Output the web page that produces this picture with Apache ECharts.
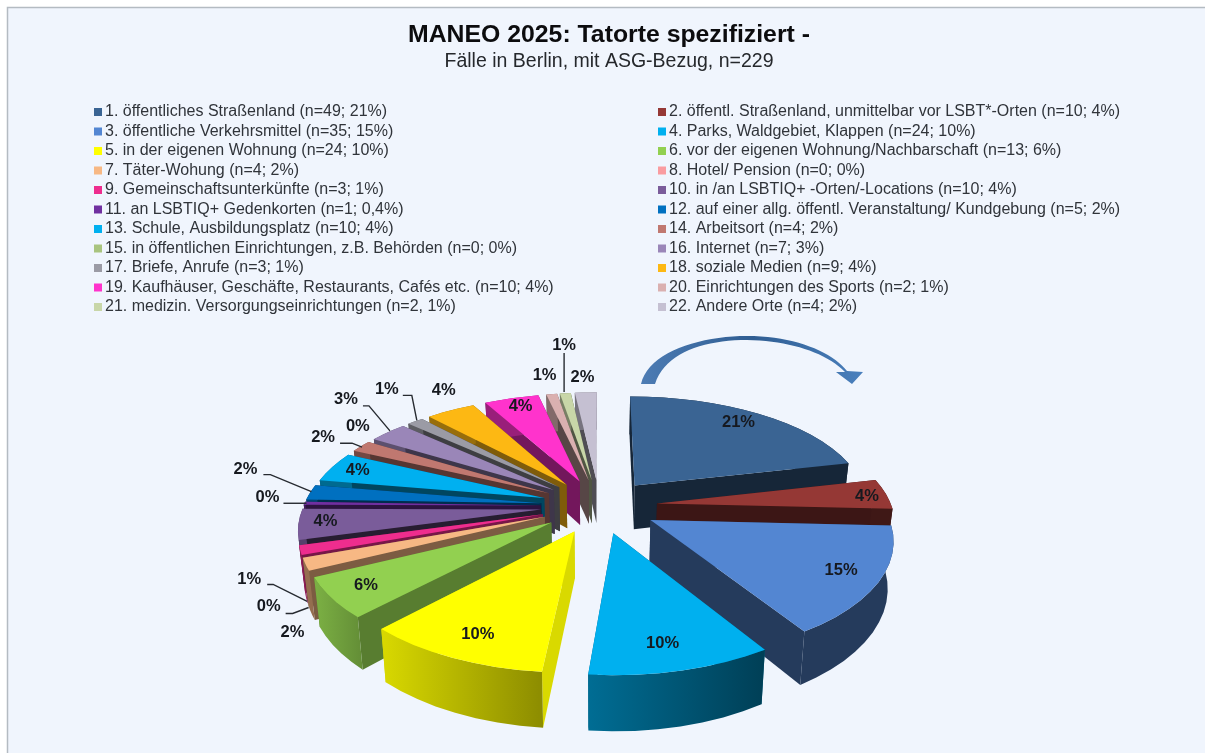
<!DOCTYPE html>
<html><head><meta charset="utf-8">
<style>html,body{margin:0;padding:0;background:#fff}#c{width:1205px;height:753px}</style>
<script src="https://cdn.jsdelivr.net/npm/echarts@6/dist/echarts.min.js"></script>
</head><body><div id="c"></div>
<script>
const titleText = 'MANEO 2025: Tatorte spezifiziert -';
const subtitleText = 'Fälle in Berlin, mit ASG-Bezug, n=229';
const categories = [
 '1. öffentliches Straßenland (n=49; 21%)',
 '2. öffentl. Straßenland, unmittelbar vor LSBT*-Orten (n=10; 4%)',
 '3. öffentliche Verkehrsmittel (n=35; 15%)',
 '4. Parks, Waldgebiet, Klappen (n=24; 10%)',
 '5. in der eigenen Wohnung (n=24; 10%)',
 '6. vor der eigenen Wohnung/Nachbarschaft (n=13; 6%)',
 '7. Täter-Wohung (n=4; 2%)',
 '8. Hotel/ Pension (n=0; 0%)',
 '9. Gemeinschaftsunterkünfte (n=3; 1%)',
 '10. in /an LSBTIQ+ -Orten/-Locations (n=10; 4%)',
 '11. an LSBTIQ+ Gedenkorten (n=1; 0,4%)',
 '12. auf einer allg. öffentl. Veranstaltung/ Kundgebung (n=5; 2%)',
 '13. Schule, Ausbildungsplatz (n=10; 4%)',
 '14. Arbeitsort (n=4; 2%)',
 '15. in öffentlichen Einrichtungen, z.B. Behörden (n=0; 0%)',
 '16. Internet (n=7; 3%)',
 '17. Briefe, Anrufe (n=3; 1%)',
 '18. soziale Medien (n=9; 4%)',
 '19. Kaufhäuser, Geschäfte, Restaurants, Cafés etc. (n=10; 4%)',
 '20. Einrichtungen des Sports (n=2; 1%)',
 '21. medizin. Versorgungseinrichtungen (n=2, 1%)',
 '22. Andere Orte (n=4; 2%)'
];
const counts = [49,10,35,24,24,13,4,0,3,10,1,5,10,4,0,7,3,9,10,2,2,4];
const percentLabels = ['21%','4%','15%','10%','10%','6%','2%','0%','1%','4%','0%','2%','4%','2%','0%','3%','1%','4%','4%','1%','1%','2%'];

// ---- styling, separate from the data ----
const colors = ['#3a6493','#953835','#5386d2','#00b0ef','#ffff00','#92d050','#f7b884','#fa9ca0','#ee2d8e','#7a5c9a','#7030a0','#0070c0','#00b0f0','#c07870','#a9c47f','#9a86b8','#9b9ba5','#fdb813','#ff33cc','#dab0b0','#c8d6a8','#c5c0d2'];
// radial wall shade, outer wall shade left, outer wall shade right
const shades = [[.38,.38,.38],[.4,.42,.42],[.44,.44,.44],[.55,.62,.36],[.85,.85,.55],[.6,.85,.68],[.5,.6,.6],[.5,.6,.6],[.5,.6,.6],[.32,.7,.7],[.4,.6,.6],[.4,.6,.6],[.4,.6,.6],[.45,.6,.6],[.5,.6,.6],[.4,.6,.6],[.4,.6,.6],[.5,.6,.6],[.45,.6,.6],[.4,.6,.6],[.4,.6,.6],[.4,.6,.6]];
// label offsets in px from each slice's label anchor
const labelOffsets = [[-22,6],[-29,3],[-54,-10],[-27,-27],[35,-23],[47,-11],[-2,70],[-23,52],[-41,31],[35,-1],[-31,-5],[-60,-22],[28,3],[-37,-10],[-12,-16],[-42,-34],[-29,-34],[-8,-23],[8,5],[-8,-22],[-2,-52],[-4,-19]];
const leaders = {7:[[-6,59],[1,59],[17,53]],8:[[-23,36],[-17,36],[17,53]],10:[[-15,1],[8,1]],11:[[-42,-17],[-35,-17],[6,0]],13:[[-20,-4],[-8,-4],[2,0]],15:[[-25,-28],[-19,-28],[2,-3]],16:[[-13,-28],[-4,-28],[1,-3]],20:[[-2,-44],[-2,-5]]};
const view = {cx:599.5, cy:506, R:243, explode:60, tilt:.45, persp:.16, perspX:.15, height:45, taper:.98, xScaleL:.978, xScaleR:.965};
const anchorView = {cx:600, cy:505, tilt:.44, persp:.18};

const total = counts.reduce((a,b)=>a+b,0);
const angles = [];
counts.reduce((acc,v)=>{angles.push([acc, acc+v/total*2*Math.PI]); return acc+v/total*2*Math.PI;},0);
const mid = i => (angles[i][0]+angles[i][1])/2;
function modelXY(i, th, r){
  const b = mid(i), e = view.explode;
  return [e*Math.sin(b)+r*Math.sin(th), e*Math.cos(b)+r*Math.cos(th)];
}
function project(i, th, r, bottom){
  const [x,y] = modelXY(i,th,r);
  const s = 1/(1+view.persp*y/view.R), sx = 1/(1+view.perspX*y/view.R);
  let X = view.cx+x*sx*(x<0?view.xScaleL:view.xScaleR), Y = view.cy-view.tilt*y*s;
  if(bottom){ X = view.cx+(X-view.cx)*view.taper; Y += view.height*s; }
  return [X,Y];
}
function labelAnchor(i){
  const [x,y] = modelXY(i,mid(i),view.R), v = anchorView;
  const s = 1/(1+v.persp*y/view.R);
  return [v.cx+x*s, v.cy-v.tilt*y*s];
}
function shade(hex,f){
  const n=parseInt(hex.slice(1),16);
  const c=[n>>16,(n>>8)&255,n&255].map(v=>Math.round(v*f));
  return 'rgb('+c.join(',')+')';
}
function sliceElements(i){
  if(!counts[i]) return [];
  const [a0,a1]=angles[i], R=view.R, col=colors[i], sh=shades[i];
  const steps=Math.max(3,Math.ceil((a1-a0)/(2*Math.PI)*72));
  const arcT=[],arcB=[];
  for(let k=0;k<=steps;k++){const t=a0+(a1-a0)*k/steps; arcT.push(project(i,t,R,false)); arcB.push(project(i,t,R,true));}
  const apT=project(i,0,0,false), apB=project(i,0,0,true);
  const walls=[
    {pts:[apT,arcT[0],arcB[0],apB],fill:shade(col,sh[0]),d:Math.cos(a0)},
    {pts:[apT,arcT[steps],arcB[steps],apB],fill:shade(col,sh[0]),d:Math.cos(a1)},
    {pts:arcT.concat(arcB.slice().reverse()),fill:{type:'linear',x:0,y:0,x2:1,y2:0,colorStops:[{offset:0,color:shade(col,sh[1])},{offset:1,color:shade(col,sh[2])}]},d:-2}
  ].sort((p,q)=>q.d-p.d);
  const els=walls.map((w,k)=>({type:'polygon',z2:k,shape:{points:w.pts},style:{fill:w.fill}}));
  els.push({type:'polygon',z2:5,shape:{points:[apT].concat(arcT)},style:{fill:col}});
  return els;
}
const depthOrder = counts.map((_,i)=>i).sort((p,q)=>Math.cos(mid(q))-Math.cos(mid(p)));
const sliceSeries = categories.map((name,i)=>({
  type:'custom', name, coordinateSystem:'none', z:10+depthOrder.indexOf(i),
  itemStyle:{color:colors[i]}, silent:true, data:[[counts[i]]],
  renderItem:()=>({type:'group',children:sliceElements(i)})
}));
const labelSeries = {
  type:'custom', name:'labels', coordinateSystem:'none', z:60, silent:true,
  data:percentLabels.map((t,i)=>[i]),
  renderItem:(p,api)=>{
    const i=api.value(0), A=labelAnchor(i), children=[];
    if(leaders[i]) children.push({type:'polyline',shape:{points:leaders[i].map(o=>[A[0]+o[0],A[1]+o[1]])},style:{stroke:'#262a30',lineWidth:1.4,fill:null}});
    children.push({type:'text',style:{text:percentLabels[i],x:A[0]+labelOffsets[i][0],y:A[1]+labelOffsets[i][1],align:'center',verticalAlign:'middle',font:'bold 16.5px "Liberation Sans"',fill:'#16191f'}});
    return {type:'group',children};
  }
};
// curved direction arrow above the first slice
function bez(p0,p1,p2,p3,n){const o=[];for(let k=0;k<=n;k++){const t=k/n,u=1-t;o.push([0,1].map(d=>u*u*u*p0[d]+3*u*u*t*p1[d]+3*u*t*t*p2[d]+t*t*t*p3[d]));}return o;}
const arrowPts = [].concat(
  bez([641,384],[648,352],[700,336],[747,336],20),
  bez([747,336],[795,336],[832,352],[847,371],20),
  [[863,372],[852,384],[836,372],[845,372]],
  bez([845,372],[825,352],[790,341],[747,340],20),
  bez([747,340],[705,340],[665,352],[655,384],20)
);
const legendBase = {orient:'vertical',icon:'rect',itemWidth:8,itemHeight:8,itemGap:3.5,selectedMode:false,top:99,
  textStyle:{fontFamily:'Liberation Sans',fontSize:16,color:'#30343a',padding:[0,0,0,-2]}};

const chart = echarts.init(document.getElementById('c'),null,{renderer:'canvas'});
chart.setOption({
  animation:false, backgroundColor:'#ffffff', tooltip:{show:false},
  title:{text:titleText,subtext:subtitleText,left:604,textAlign:'center',top:18,itemGap:4,
    textStyle:{fontFamily:'Liberation Sans',fontWeight:'bold',fontSize:24.8,color:'#0c0c0e'},
    subtextStyle:{fontFamily:'Liberation Sans',fontSize:19.5,color:'#25282c'}},
  legend:[
    Object.assign({},legendBase,{left:89,data:categories.filter((_,i)=>i%2===0)}),
    Object.assign({},legendBase,{left:653,data:categories.filter((_,i)=>i%2===1)})
  ],
  graphic:[
    {type:'rect',z:-1,silent:true,shape:{x:7.5,y:7.5,width:1200,height:750},style:{fill:'#f0f5fd',stroke:'#b4bbc2',lineWidth:1.5}},
    {type:'polygon',z:70,silent:true,shape:{points:arrowPts},
     style:{fill:{type:'linear',x:0,y:0,x2:1,y2:0,colorStops:[{offset:0,color:'#4d7cb4'},{offset:.5,color:'#2f5d92'},{offset:1,color:'#4a80bd'}]}}}
  ],
  series:sliceSeries.concat([labelSeries])
});
</script></body></html>
